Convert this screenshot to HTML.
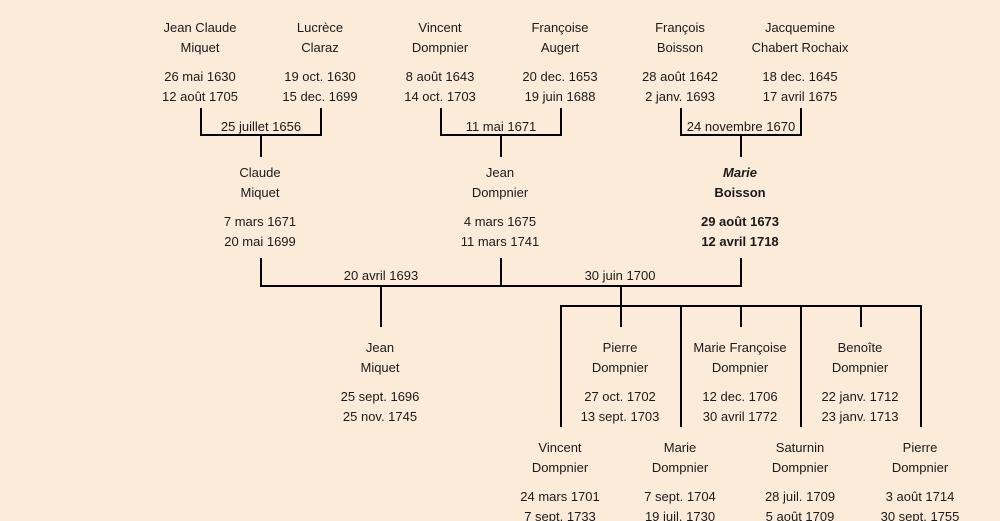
<!DOCTYPE html>
<html><head><meta charset="utf-8"><style>
html,body{margin:0;padding:0;background:#fcebd9;}
svg{display:block;}
text{font-family:"Liberation Sans",sans-serif;font-size:13px;fill:#1a1a1a;text-anchor:middle;}
.b{font-weight:bold;}
</style></head><body>
<svg width="1000" height="521" viewBox="0 0 1000 521" xmlns="http://www.w3.org/2000/svg">
<rect width="1000" height="521" fill="#fcebd9"/>
<g stroke="#000" stroke-width="2" fill="none">
<path d="M201 108V135H321V108M261 135V157"/>
<path d="M441 108V135H561V108M501 135V157"/>
<path d="M681 108V135H801V108M741 135V157"/>
<path d="M261 258V286H741V258M501 258V286M381 286V327M621 286V327"/>
<path d="M561 427V306H921V427M681 306V427M801 306V427M741 306V327M861 306V327"/>
</g>
<text x="200" y="32">Jean Claude</text><text x="200" y="52">Miquet</text><text x="200" y="81">26 mai 1630</text><text x="200" y="101">12 août 1705</text>
<text x="320" y="32">Lucrèce</text><text x="320" y="52">Claraz</text><text x="320" y="81">19 oct. 1630</text><text x="320" y="101">15 dec. 1699</text>
<text x="440" y="32">Vincent</text><text x="440" y="52">Dompnier</text><text x="440" y="81">8 août 1643</text><text x="440" y="101">14 oct. 1703</text>
<text x="560" y="32">Françoise</text><text x="560" y="52">Augert</text><text x="560" y="81">20 dec. 1653</text><text x="560" y="101">19 juin 1688</text>
<text x="680" y="32">François</text><text x="680" y="52">Boisson</text><text x="680" y="81">28 août 1642</text><text x="680" y="101">2 janv. 1693</text>
<text x="800" y="32">Jacquemine</text><text x="800" y="52">Chabert Rochaix</text><text x="800" y="81">18 dec. 1645</text><text x="800" y="101">17 avril 1675</text>
<text x="261" y="131">25 juillet 1656</text>
<text x="501" y="131">11 mai 1671</text>
<text x="741" y="131">24 novembre 1670</text>
<text x="260" y="177">Claude</text><text x="260" y="197">Miquet</text><text x="260" y="226">7 mars 1671</text><text x="260" y="246">20 mai 1699</text>
<text x="500" y="177">Jean</text><text x="500" y="197">Dompnier</text><text x="500" y="226">4 mars 1675</text><text x="500" y="246">11 mars 1741</text>
<text class="b" x="740" y="177" font-style="italic">Marie</text><text class="b" x="740" y="197">Boisson</text><text class="b" x="740" y="226">29 août 1673</text><text class="b" x="740" y="246">12 avril 1718</text>
<text x="381" y="280">20 avril 1693</text>
<text x="620" y="280">30 juin 1700</text>
<text x="380" y="352">Jean</text><text x="380" y="372">Miquet</text><text x="380" y="401">25 sept. 1696</text><text x="380" y="421">25 nov. 1745</text>
<text x="620" y="352">Pierre</text><text x="620" y="372">Dompnier</text><text x="620" y="401">27 oct. 1702</text><text x="620" y="421">13 sept. 1703</text>
<text x="740" y="352">Marie Françoise</text><text x="740" y="372">Dompnier</text><text x="740" y="401">12 dec. 1706</text><text x="740" y="421">30 avril 1772</text>
<text x="860" y="352">Benoîte</text><text x="860" y="372">Dompnier</text><text x="860" y="401">22 janv. 1712</text><text x="860" y="421">23 janv. 1713</text>
<text x="560" y="452">Vincent</text><text x="560" y="472">Dompnier</text><text x="560" y="501">24 mars 1701</text><text x="560" y="521">7 sept. 1733</text>
<text x="680" y="452">Marie</text><text x="680" y="472">Dompnier</text><text x="680" y="501">7 sept. 1704</text><text x="680" y="521">19 juil. 1730</text>
<text x="800" y="452">Saturnin</text><text x="800" y="472">Dompnier</text><text x="800" y="501">28 juil. 1709</text><text x="800" y="521">5 août 1709</text>
<text x="920" y="452">Pierre</text><text x="920" y="472">Dompnier</text><text x="920" y="501">3 août 1714</text><text x="920" y="521">30 sept. 1755</text>
</svg>
</body></html>
